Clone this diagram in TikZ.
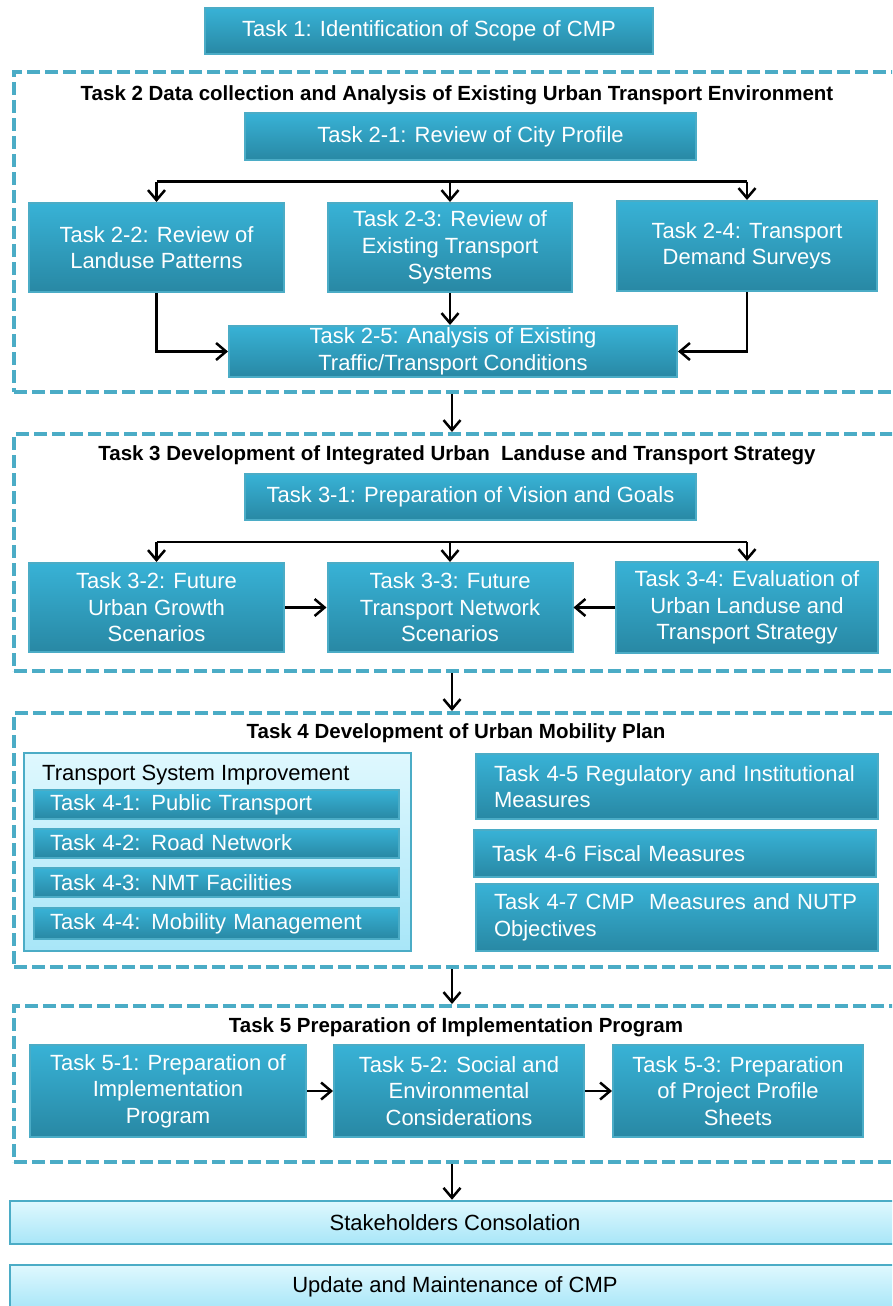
\documentclass[tikz,border=0pt]{standalone}
\usepackage{fontspec}
\setmainfont{Liberation Sans}
\usetikzlibrary{arrows.meta}
\definecolor{boxtop}{RGB}{56,178,214}
\definecolor{boxbot}{RGB}{40,136,164}
\definecolor{boxline}{RGB}{75,172,198}
\definecolor{lighttop}{RGB}{223,248,254}
\definecolor{lightbot}{RGB}{168,230,248}

\begin{document}
\begin{tikzpicture}[x=1pt, y=-1pt,
    task/.style={rectangle, draw=boxline, line width=2pt, top color=boxtop, bottom color=boxbot, text=white, align=center, inner sep=0pt, font=\fontsize{22}{26.5}\selectfont},
    subtask/.style={task, align=left, text width=333pt, inner xsep=16pt, minimum width=365pt, minimum height=29pt},
    measure/.style={task, align=left, text width=366pt, inner xsep=18pt, minimum width=402pt},
    pale/.style={rectangle, draw=boxline, line width=2pt, top color=lighttop, bottom color=lightbot, inner sep=0pt, font=\fontsize{22}{26.5}\selectfont},
    frame/.style={draw=boxline, line width=4pt, dash pattern=on 13pt off 5pt, inner sep=0pt},
    title/.style={font=\bfseries\fontsize{20.5}{24}\selectfont},
    arrow/.style={line width=2.5pt, -{Straight Barb[length=10pt,width=17pt]}},
    wire/.style={line width=2.5pt}
]
\useasboundingbox (0,0) rectangle (892,1306);
\clip (0,0) rectangle (892,1306);

% Dashed frames
\node[frame, minimum width=888pt, minimum height=320pt] (sec2) at (458,232) {};
\node[frame, minimum width=888pt, minimum height=237pt] (sec3) at (458,552.5) {};
\node[frame, minimum width=888pt, minimum height=254pt] (sec4) at (458,840) {};
\node[frame, minimum width=888pt, minimum height=156pt] (sec5) at (458,1084) {};

% Task 1
\node[task, minimum width=448pt, minimum height=46pt] (t1) at (429,31) {Task 1: Identification of Scope of CMP};

% Task 2
\node[title] (h2) at (457,95) {Task 2 Data collection and Analysis of Existing Urban Transport Environment};
\node[task, minimum width=451pt, minimum height=47pt] (t21) at (470.5,136.5) {Task 2-1: Review of City Profile};
\node[task, minimum width=255pt, minimum height=89pt] (t22) at (156.5,247.5) {Task 2-2: Review of\\Landuse Patterns};
\node[task, minimum width=244pt, minimum height=89pt] (t23) at (450,247.5) {Task 2-3: Review of\\Existing Transport\\Systems};
\node[task, minimum width=260pt, minimum height=90pt] (t24) at (747,246) {Task 2-4: Transport\\Demand Surveys};
\node[task, minimum width=448pt, minimum height=51pt] (t25) at (453,351.5) {Task 2-5: Analysis of Existing\\Traffic/Transport Conditions};
\coordinate (b2) at (450,181.5);

% Task 3
\node[title] (h3) at (457,455) {Task 3 Development of Integrated Urban\ \ Landuse and Transport Strategy};
\node[task, minimum width=451pt, minimum height=46pt] (t31) at (470.5,497) {Task 3-1: Preparation of Vision and Goals};
\node[task, minimum width=255pt, minimum height=89pt] (t32) at (156.5,607.5) {Task 3-2: Future\\Urban Growth\\Scenarios};
\node[task, minimum width=245pt, minimum height=89pt] (t33) at (450,607.5) {Task 3-3: Future\\Transport Network\\Scenarios};
\node[task, minimum width=262pt, minimum height=91pt] (t34) at (747,607.5) {Task 3-4: Evaluation of\\Urban Landuse and\\Transport Strategy};
\coordinate (b3) at (450,542);

% Task 4
\node[title] (h4) at (456,733) {Task 4 Development of Urban Mobility Plan};
\node[pale, minimum width=387pt, minimum height=198pt] (tsi) at (217.5,852) {};
\node[anchor=west, font=\fontsize{22}{26.5}\selectfont, inner sep=0pt] (tsilabel) at (42,775) {Transport System Improvement};
\node[subtask] (t41) at (216.5,804.5) {Task 4-1: Public Transport};
\node[subtask] (t42) at (216.5,843) {Task 4-2: Road Network};
\node[subtask] (t43) at (216.5,882.5) {Task 4-3: NMT Facilities};
\node[subtask, minimum height=31pt] (t44) at (216.5,923.5) {Task 4-4: Mobility Management};
\node[measure, minimum height=65pt] (t45) at (677,786.5) {Task 4-5 Regulatory and Institutional\\Measures};
\node[measure, minimum height=47pt] (t46) at (675,853.5) {Task 4-6 Fiscal Measures};
\node[measure, minimum height=67pt] (t47) at (677,917.5) {Task 4-7 CMP\ \ Measures and NUTP\\Objectives};

% Task 5
\node[title] (h5) at (456,1027) {Task 5 Preparation of Implementation Program};
\node[task, minimum width=276pt, minimum height=92pt] (t51) at (168,1091) {Task 5-1: Preparation of\\Implementation\\Program};
\node[task, minimum width=250pt, minimum height=92pt] (t52) at (459,1091) {Task 5-2: Social and\\Environmental\\Considerations};
\node[task, minimum width=250pt, minimum height=92pt] (t53) at (738,1091) {Task 5-3: Preparation\\of Project Profile\\Sheets};

% Final steps
\node[pale, line width=2.5pt, minimum width=890pt, minimum height=43pt] (stake) at (455,1222.5) {Stakeholders Consolation};
\node[pale, minimum width=890pt, minimum height=44pt] (update) at (455,1287) {Update and Maintenance of CMP};

% Arrows
\draw[wire] (t22.north |- b2) -- (t24.north |- b2);
\draw[arrow] (t22.north |- b2) -- (t22.north);
\draw[arrow] (b2) -- (t23.north);
\draw[arrow] (t24.north |- b2) -- (t24.north);
\draw[arrow] (t22.south) |- (t25.west);
\draw[arrow] (t23.south) -- (t25.north -| t23.south);
\draw[arrow] (t24.south) |- (t25.east);

\draw[wire] (t32.north |- b3) -- (t34.north |- b3);
\draw[arrow] (t32.north |- b3) -- (t32.north);
\draw[arrow] (b3) -- (t33.north);
\draw[arrow] (t34.north |- b3) -- (t34.north);
\draw[arrow] (t32.east) -- (t33.west);
\draw[arrow] (t34.west) -- (t33.east);

\draw[arrow] (t51.east) -- (t52.west);
\draw[arrow] (t52.east) -- (t53.west);

\draw[arrow] ([xshift=-6pt]sec2.south) -- ([xshift=-6pt]sec3.north);
\draw[arrow] ([xshift=-6pt]sec3.south) -- ([xshift=-6pt]sec4.north);
\draw[arrow] ([xshift=-6pt]sec4.south) -- ([xshift=-6pt]sec5.north);
\draw[arrow] ([xshift=-6pt]sec5.south) -- ([xshift=-6pt]sec5.south |- stake.north);

\end{tikzpicture}
\end{document}
